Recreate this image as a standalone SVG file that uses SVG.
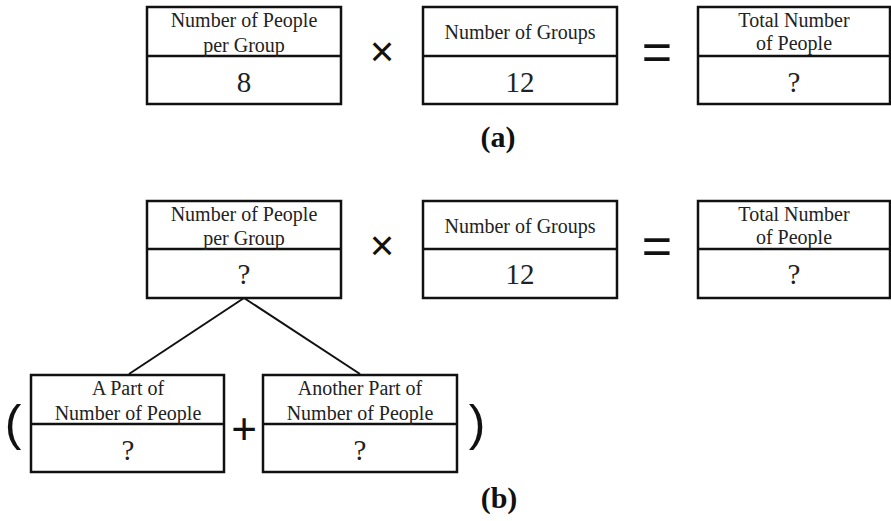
<svg xmlns="http://www.w3.org/2000/svg" width="891" height="521" viewBox="0 0 891 521">
<style>
.box{fill:#fff;stroke:#111;stroke-width:2.5}
.div{stroke:#111;stroke-width:2.5}
.t{font-family:"Liberation Serif",serif;font-size:20px;fill:#222;text-anchor:middle}
.v{font-family:"Liberation Serif",serif;font-size:29px;fill:#222;text-anchor:middle}
.op{font-family:"Liberation Sans",sans-serif;fill:#111;text-anchor:middle}
.lab{font-family:"Liberation Serif",serif;font-size:30px;font-weight:bold;fill:#111;text-anchor:middle}
.conn{stroke:#111;stroke-width:2;fill:none}
</style>
<rect width="891" height="521" fill="#fff"/>
<g id="connectors">
<line class="conn" x1="244" y1="298" x2="129" y2="374"/>
<line class="conn" x1="244" y1="298" x2="360" y2="374"/>
</g>
<g id="a-people-per-group">
<rect class="box" x="147" y="7" width="194" height="97"/>
<line class="div" x1="147" y1="56" x2="341" y2="56"/>
<text class="t" x="244" y="27">Number of People</text>
<text class="t" x="244" y="52">per Group</text>
<text class="v" x="244" y="92">8</text>
</g>
<g id="a-times">
<text class="op" x="382" y="66" font-size="42">×</text>
</g>
<g id="a-groups">
<rect class="box" x="423" y="7" width="194" height="97"/>
<line class="div" x1="423" y1="56" x2="617" y2="56"/>
<text class="t" x="520" y="39">Number of Groups</text>
<text class="v" x="520" y="92">12</text>
</g>
<g id="a-equals">
<text class="op" x="657" y="70" font-size="52">=</text>
</g>
<g id="a-total">
<rect class="box" x="698" y="7" width="192" height="97"/>
<line class="div" x1="698" y1="56" x2="890" y2="56"/>
<text class="t" x="794" y="27">Total Number</text>
<text class="t" x="794" y="50">of People</text>
<text class="v" x="794" y="92">?</text>
</g>
<g id="label-a">
<text class="lab" x="498" y="147">(a)</text>
</g>
<g id="b-people-per-group">
<rect class="box" x="147" y="201" width="194" height="97"/>
<line class="div" x1="147" y1="249" x2="341" y2="249"/>
<text class="t" x="244" y="221">Number of People</text>
<text class="t" x="244" y="245">per Group</text>
<text class="v" x="244" y="284">?</text>
</g>
<g id="b-times">
<text class="op" x="382" y="260" font-size="42">×</text>
</g>
<g id="b-groups">
<rect class="box" x="423" y="201" width="194" height="97"/>
<line class="div" x1="423" y1="249" x2="617" y2="249"/>
<text class="t" x="520" y="233">Number of Groups</text>
<text class="v" x="520" y="284">12</text>
</g>
<g id="b-equals">
<text class="op" x="657" y="264" font-size="52">=</text>
</g>
<g id="b-total">
<rect class="box" x="698" y="201" width="192" height="97"/>
<line class="div" x1="698" y1="249" x2="890" y2="249"/>
<text class="t" x="794" y="221">Total Number</text>
<text class="t" x="794" y="244">of People</text>
<text class="v" x="794" y="284">?</text>
</g>
<g id="b-open-paren">
<text class="op" x="13" y="440" font-size="50">(</text>
</g>
<g id="b-part1">
<rect class="box" x="31" y="375" width="193" height="97"/>
<line class="div" x1="31" y1="424" x2="224" y2="424"/>
<text class="t" x="128" y="395">A Part of</text>
<text class="t" x="128" y="420">Number of People</text>
<text class="v" x="128" y="460">?</text>
</g>
<g id="b-plus">
<text class="op" x="244" y="444" font-size="44">+</text>
</g>
<g id="b-part2">
<rect class="box" x="263" y="375" width="194" height="97"/>
<line class="div" x1="263" y1="424" x2="457" y2="424"/>
<text class="t" x="360" y="395">Another Part of</text>
<text class="t" x="360" y="420">Number of People</text>
<text class="v" x="360" y="460">?</text>
</g>
<g id="b-close-paren">
<text class="op" x="477" y="440" font-size="50">)</text>
</g>
<g id="label-b">
<text class="lab" x="499" y="508">(b)</text>
</g>
</svg>
